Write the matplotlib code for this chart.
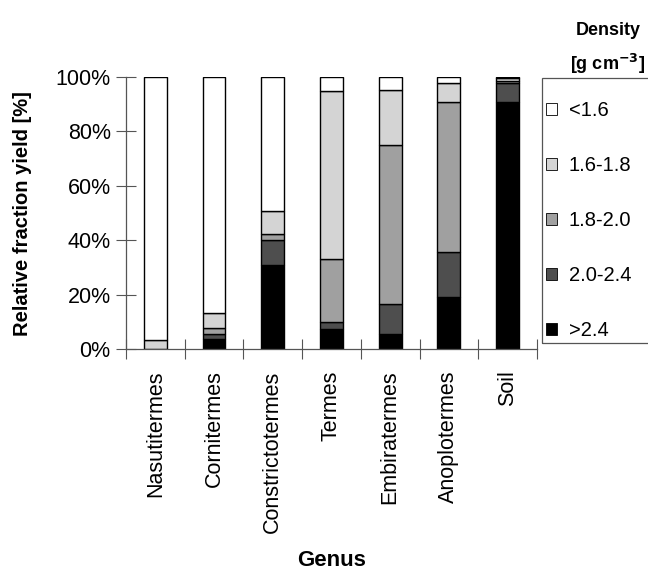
import matplotlib.pyplot as plt
from matplotlib.patches import Patch, Rectangle
import numpy as np

plt.rcParams['font.family'] = ['Liberation Sans', 'DejaVu Sans']

genera = ["Nasutitermes", "Cornitermes", "Constrictotermes", "Termes",
          "Embiratermes", "Anoplotermes", "Soil"]

# fractions per density class, in % (bottom to top)
gt_24 = [0.0, 4.0, 31.0, 7.6, 5.6, 19.3, 90.7]
d_20_24 = [0.0, 1.5, 9.0, 2.3, 11.0, 16.3, 6.9]
d_18_20 = [0.0, 2.2, 2.2, 23.1, 58.3, 55.0, 0.9]
d_16_18 = [3.3, 5.7, 8.7, 61.6, 20.2, 7.2, 0.9]
lt_16 = [96.7, 86.6, 49.1, 5.4, 4.9, 2.2, 0.6]

series = [gt_24, d_20_24, d_18_20, d_16_18, lt_16]
labels = [">2.4", "2.0-2.4", "1.8-2.0", "1.6-1.8", "<1.6"]
colors = ["#000000", "#4e4e4e", "#a0a0a0", "#d4d4d4", "#ffffff"]

fig = plt.figure(figsize=(6.48, 5.79), dpi=100)
ax = fig.add_axes([0.1944, 0.3964, 0.6343, 0.4711])

x = np.arange(len(genera))
bottom = np.zeros(len(genera))
for vals, col in zip(series, colors):
    ax.bar(x, vals, width=0.39, bottom=bottom, color=col,
           edgecolor="black", linewidth=1.0)
    bottom += np.array(vals)

ax.set_xlim(-0.5, len(genera) - 0.5)
ax.set_ylim(0, 100)
ax.set_yticks(range(0, 101, 20))
ax.set_yticklabels([f"{v}%" for v in range(0, 101, 20)], fontsize=15.5)
ax.set_xticks(x)
ax.set_xticklabels(genera, rotation=90, fontsize=15.5)
ax.tick_params(axis="x", length=0, pad=15)
ax.set_xticks(np.arange(-0.5, len(genera)), minor=True)
ax.tick_params(axis="x", which="minor", direction="inout", length=14,
               width=0.8, color="#555555")
ax.tick_params(axis="y", direction="inout", length=14, width=0.8,
               color="#555555", pad=4)

for s in ["top", "right"]:
    ax.spines[s].set_visible(False)
for s in ["left", "bottom"]:
    ax.spines[s].set_color("#555555")
    ax.spines[s].set_linewidth(0.9)

ax.set_ylabel("Relative fraction yield [%]", fontsize=14.5, fontweight="bold")
ax.yaxis.set_label_coords(-0.228, 0.5)
fig.text(0.511, 0.022, "Genus", fontsize=16, fontweight="bold", ha="center")

# legend box runs past the right edge of the figure
fig.patches.append(Rectangle((0.8364, 0.4076), 0.3, 0.4577,
                             transform=fig.transFigure, fill=False,
                             edgecolor="#555555", linewidth=0.9))
handles = [Patch(facecolor=c, edgecolor="black", linewidth=0.6)
           for c in colors[::-1]]
fig.legend(handles, labels[::-1], loc="upper left",
           bbox_to_anchor=(0.842, 0.826), fontsize=14.5,
           handlelength=0.55, handleheight=0.55, handletextpad=0.6,
           labelspacing=1.79, borderpad=0, frameon=False, borderaxespad=0)
fig.text(0.938, 0.948, "Density", fontsize=13, fontweight="bold",
         ha="center", va="center")
fig.text(0.938, 0.89, r"[g cm$^{\mathbf{-3}}$]", fontsize=13,
         fontweight="bold", ha="center", va="center")

fig.savefig("out.png", dpi=100)
